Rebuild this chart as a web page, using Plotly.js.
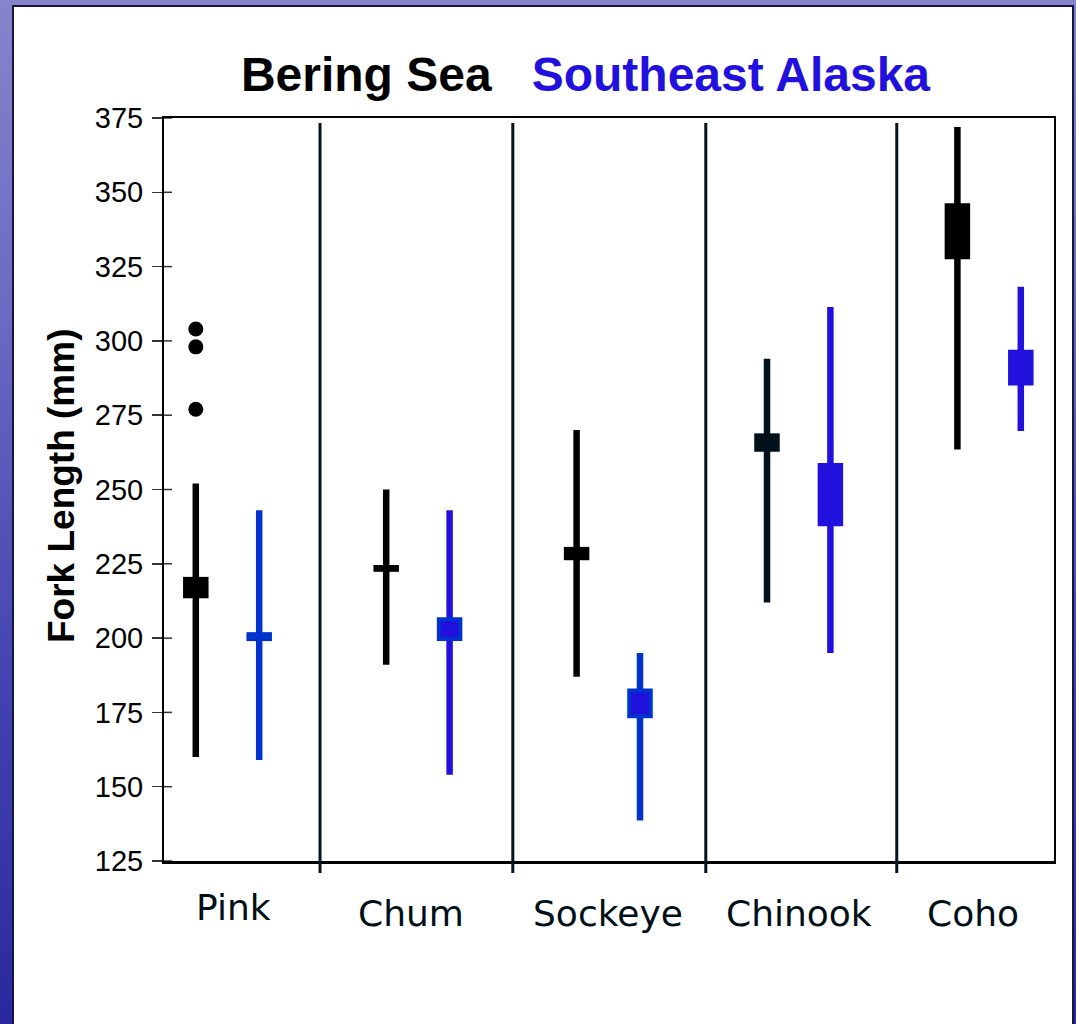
<!DOCTYPE html>
<html><head><meta charset="utf-8">
<script src="https://cdn.plot.ly/plotly-3.0.1.min.js"></script>
<style>
html,body{margin:0;padding:0;}
#wrap{position:relative;width:1076px;height:1024px;overflow:hidden;
background:linear-gradient(to bottom,#8684cc 0%,#6c6ac2 30%,#4644b2 65%,#2a289e 100%);}
#panel{position:absolute;left:12px;top:5px;width:1062px;height:1040px;background:#fff;border:2px solid #16163a;box-sizing:border-box;}
#chart{position:absolute;left:0;top:0;width:1076px;height:1024px;}
</style></head><body>
<div id="wrap"><div id="panel"></div><div id="chart"></div></div>
<script>
// ---- data ----
const species = ['Pink', 'Chum', 'Sockeye', 'Chinook', 'Coho'];
const beringLow     = [160, 191, 187, 212, 263.5];
const beringHigh    = [252, 250, 270, 294, 372];
const beringBoxLow  = [213.4, 222.3, 226.2, 262.7, 327.5];
const beringBoxHigh = [220.6, 224.6, 230.7, 268.9, 346.3];
const pinkOutliers  = [304, 298, 277];
const seakLow     = [159, 154, 138.6, 195, 269.7];
const seakHigh    = [243, 243, 195, 311.4, 318.2];
const seakBoxLow  = [199, 199, 173, 237.6, 285];
const seakBoxHigh = [202, 207, 183, 258.9, 297];
const yTicks = [125, 150, 175, 200, 225, 250, 275, 300, 325, 350, 375];

// ---- styles ----
const pxX = 190.4, pxY = 2.972;          // px per unit on each axis
const offB = -0.1665, offW = 0.1665;       // position of each region within a species
const whiskW = 6.5 / pxX, boxW = 25.5 / pxX;
const beringColor = ['#000000', '#000000', '#000000', '#00111a', '#000000'];
const seakLineColor = ['#0033cc', '#2211dd', '#0033cc', '#2211dd', '#2211dd'];
const seakBoxFill = ['#0033cc', '#2211dd', '#2211dd', '#2211dd', '#2211dd'];
const seakBoxBorder = [0, 4, 4, 0, 0];
const seakBorderColor = '#0033cc';
const dividerX = [0.486, 1.4985, 2.512, 3.515];
const labelX = [0.029, 0.964, 2.0, 3.0, 3.916];
const labelDy = [0, 6, 6, 6, 6];

const idx = species.map((s, i) => i);
function bars(xs, lo, hi, w, color, lineW, name) {
  const inset = lineW ? lineW.map(l => l / 2 / pxY) : lo.map(() => 0);
  const winset = lineW ? lineW.map(l => l / pxX) : lo.map(() => 0);
  return {
    type: 'bar', name: name, x: xs,
    base: lo.map((v, i) => v + inset[i]),
    y: hi.map((v, i) => v - lo[i] - 2 * inset[i]),
    width: xs.map((_, i) => (Array.isArray(w) ? w[i] : w) - winset[i]),
    marker: { color: color, line: { width: lineW || 0, color: seakBorderColor } },
    hoverinfo: 'skip', showlegend: false
  };
}
const xB = idx.map(i => i + offB), xW = idx.map(i => i + offW);
const traces = [
  bars(xB, beringLow, beringHigh, whiskW, beringColor, null, 'Bering Sea range'),
  bars(xW, seakLow, seakHigh, whiskW, seakLineColor, null, 'Southeast Alaska range'),
  bars(xB, beringBoxLow, beringBoxHigh, boxW, beringColor, null, 'Bering Sea box'),
  bars(xW, seakBoxLow, seakBoxHigh, boxW, seakBoxFill, seakBoxBorder, 'Southeast Alaska box'),
  { type: 'scatter', mode: 'markers', x: pinkOutliers.map(() => idx[0] + offB), y: pinkOutliers,
    marker: { color: '#000', size: 15, symbol: 'circle' }, showlegend: false, hoverinfo: 'skip' }
];

const shapes = [];
dividerX.forEach(x => shapes.push({ type: 'line', xref: 'x', yref: 'paper', x0: x, x1: x,
  y0: -12 / 743, y1: 1 - 5 / 743, line: { color: '#08131c', width: 3 } }));
yTicks.forEach(v => shapes.push({ type: 'line', xref: 'paper', yref: 'y', x0: 0, x1: 8 / 890,
  y0: v, y1: v, line: { color: '#333', width: 1.5 } }));

const annotations = species.map((s, i) => ({
  text: s, xref: 'x', yref: 'paper', x: labelX[i], y: (861 - 907 - labelDy[i]) / 743,
  xanchor: 'center', yanchor: 'middle', showarrow: false,
  font: { family: 'DejaVu Sans, sans-serif', size: 36, color: '#001018' }
}));
annotations.push({
  text: 'Fork Length (mm)', textangle: -90, xref: 'paper', yref: 'paper',
  x: (61 - 164) / 890, y: (861 - 486) / 743, xanchor: 'center', yanchor: 'middle', showarrow: false,
  font: { family: 'Liberation Sans, Arial, sans-serif', size: 37, weight: 'bold', color: '#000' }
});

const layout = {
  width: 1076, height: 1024,
  margin: { l: 164, r: 22, t: 118, b: 163, pad: 0 },
  paper_bgcolor: 'rgba(0,0,0,0)', plot_bgcolor: '#fff',
  barmode: 'overlay',
  title: {
    text: 'Bering Sea\u00a0\u00a0\u00a0<span style="color:#2211dd">Southeast Alaska</span>',
    x: 585.5 / 1076, xanchor: 'center', xref: 'container',
    y: 1 - 74 / 1024, yanchor: 'middle', yref: 'container',
    font: { family: 'Liberation Sans, Arial, sans-serif', size: 48, weight: 'bold', color: '#000' }
  },
  xaxis: {
    range: [(164 - 227.5) / pxX, (1054 - 227.5) / pxX], showgrid: false, zeroline: false,
    showticklabels: false, ticks: '', showline: true, mirror: true, linecolor: '#000', linewidth: 2.5,
    fixedrange: true
  },
  yaxis: {
    range: [125, 375], tickvals: yTicks, ticks: 'outside', ticklen: 10, tickwidth: 1.5, tickcolor: '#333',
    ticklabelstandoff: 3,
    tickfont: { family: 'Liberation Sans, Arial, sans-serif', size: 29, color: '#000' },
    showgrid: false, zeroline: false, showline: true, mirror: true, linecolor: '#000', linewidth: 2,
    fixedrange: true
  },
  shapes: shapes, annotations: annotations, showlegend: false
};
Plotly.newPlot('chart', traces, layout, { staticPlot: true, displayModeBar: false });
</script></body></html>
